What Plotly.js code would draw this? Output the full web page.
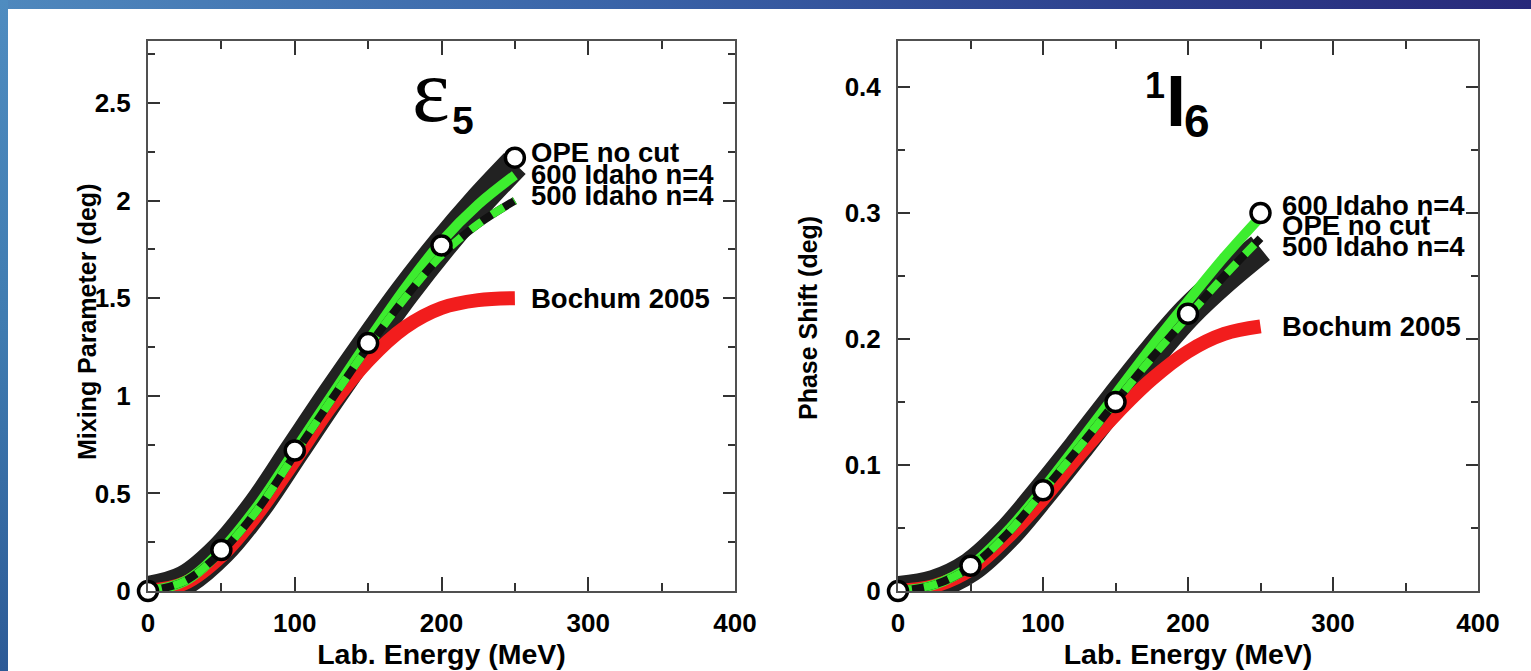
<!DOCTYPE html>
<html>
<head>
<meta charset="utf-8">
<script src="https://cdn.plot.ly/plotly-3.0.1.min.js"></script>
<style>
  html, body { margin:0; padding:0; }
  body { width:1531px; height:671px; position:relative; overflow:hidden;
         background: linear-gradient(90deg, #4f88bd 0%, #3a64a8 40%, #2d3f8c 75%, #28297a 100%); }
  #left-strip { position:absolute; left:0; top:0; width:8px; height:671px;
         background: linear-gradient(180deg, #4f8cc0 0%, #3f7bb0 50%, #2c5a96 100%); }
  #white { position:absolute; left:8px; top:9px; right:0; bottom:0; background:#ffffff; }
  #chart { position:absolute; left:0; top:0; width:1531px; height:671px; }
</style>
</head>
<body>
<div id="left-strip"></div>
<div id="white"></div>
<div id="chart"></div>
<script>
// ---- Data ----
const energy = [0, 25, 50, 75, 100, 125, 150, 175, 200, 225, 250];
const opeEnergy = [0, 50, 100, 150, 200, 250];

// epsilon_5 mixing parameter (deg)
const eps5Band      = [0, 0.055, 0.21, 0.44, 0.72, 1.00, 1.27, 1.53, 1.77, 1.99, 2.19];
const eps5Bochum    = [0, 0.04, 0.18, 0.40, 0.67, 0.95, 1.18, 1.35, 1.45, 1.49, 1.50];
const eps5Idaho600  = [0, 0.05, 0.21, 0.44, 0.72, 1.00, 1.28, 1.55, 1.79, 1.98, 2.13];
const eps5Idaho500  = [0, 0.05, 0.20, 0.42, 0.70, 0.98, 1.25, 1.50, 1.72, 1.88, 2.00];
const eps5OPE       = [0, 0.21, 0.72, 1.27, 1.77, 2.22];

// 1I6 phase shift (deg)
const i6Band        = [0, 0.005, 0.019, 0.045, 0.079, 0.115, 0.152, 0.188, 0.221, 0.248, 0.272];
const i6Bochum      = [0, 0.004, 0.017, 0.042, 0.073, 0.108, 0.140, 0.168, 0.190, 0.204, 0.210];
const i6Idaho600    = [0, 0.005, 0.020, 0.047, 0.081, 0.118, 0.156, 0.194, 0.230, 0.265, 0.297];
const i6Idaho500    = [0, 0.005, 0.019, 0.045, 0.079, 0.114, 0.150, 0.185, 0.218, 0.250, 0.280];
const i6OPE         = [0, 0.02, 0.08, 0.15, 0.22, 0.30];

const seriesLabelsLeft  = ["OPE no cut", "600 Idaho n=4", "500 Idaho n=4", "Bochum 2005"];
const seriesLabelsRight = ["600 Idaho n=4", "OPE no cut", "500 Idaho n=4", "Bochum 2005"];
const yTitles = ["Mixing Parameter (deg)", "Phase Shift (deg)"];
const xTitle = "Lab. Energy (MeV)";

// ---- Styling ----
const W = 1531, H = 671;
const BLACK = '#222222', RED = '#f21d1d', GREEN = '#3ded2f';
const FONT = 'Liberation Sans, Arial, Helvetica, sans-serif';
const px = x => x / W;
const py = y => 1 - y / H;

function curves(xa, ya, band, bochum, i600, i500, ope) {
  const base = {x: energy, xaxis: xa, yaxis: ya, mode: 'lines', hoverinfo: 'skip', showlegend: false};
  return [
    Object.assign({}, base, {y: band,   name: 'band', line: {color: BLACK, width: 30, shape: 'spline'}}),
    Object.assign({}, base, {y: bochum, name: 'Bochum 2005', line: {color: RED, width: 14, shape: 'spline'}}),
    Object.assign({}, base, {y: i600,   name: '600 Idaho n=4', line: {color: GREEN, width: 10, shape: 'spline'}}),
    Object.assign({}, base, {y: i500,   name: '500 Idaho n=4 (base)', line: {color: '#111111', width: 8, shape: 'spline'}}),
    Object.assign({}, base, {y: i500,   name: '500 Idaho n=4', line: {color: GREEN, width: 8, shape: 'spline', dash: '14px,12px'}}),
    {x: opeEnergy, y: ope, xaxis: xa, yaxis: ya, mode: 'markers', name: 'OPE no cut', showlegend: false,
     cliponaxis: false, hoverinfo: 'skip',
     marker: {symbol: 'circle', size: 19, color: '#ffffff', line: {color: '#000000', width: 3.5}}}
  ];
}

const data = [].concat(
  curves('x', 'y', eps5Band, eps5Bochum, eps5Idaho600, eps5Idaho500, eps5OPE),
  curves('x2', 'y2', i6Band, i6Bochum, i6Idaho600, i6Idaho500, i6OPE)
);

function xAxis(domain, anchor) {
  return {
    domain: domain, anchor: anchor, range: [0, 400], dtick: 100, tick0: 0,
    ticks: 'inside', ticklen: 14, tickwidth: 2, tickcolor: '#333',
    minor: {dtick: 50, ticks: 'inside', ticklen: 8, tickwidth: 2, tickcolor: '#333'},
    showline: true, linecolor: '#505050', linewidth: 2, mirror: 'allticks',
    showgrid: false, zeroline: false, ticklabelstandoff: 8,
    tickfont: {family: FONT, size: 26, color: '#000', weight: 'bold'},
    title: {text: xTitle, standoff: 7, font: {family: FONT, size: 28.5, color: '#000', weight: 'bold'}}
  };
}
function yAxis(domain, anchor, top, dt) {
  return {
    domain: domain, anchor: anchor, range: [0, top], dtick: dt, tick0: 0,
    ticks: 'inside', ticklen: 12, tickwidth: 2, tickcolor: '#333',
    minor: {dtick: dt / 2, ticks: 'inside', ticklen: 7, tickwidth: 2, tickcolor: '#333'},
    showline: true, linecolor: '#505050', linewidth: 2, mirror: 'allticks',
    showgrid: false, zeroline: false, ticklabelstandoff: 10,
    tickfont: {family: FONT, size: 26, color: '#000', weight: 'bold'}
  };
}

function label(text, x, y, size, extra) {
  return Object.assign({text: text, xref: 'paper', yref: 'paper', x: px(x), y: py(y),
    xanchor: 'left', yanchor: 'middle', showarrow: false,
    font: {family: FONT, size: size || 27.5, color: '#000', weight: 'bold'}}, extra || {});
}

const yDom = [py(591), py(41)];
const layout = {
  width: W, height: H,
  margin: {l: 0, r: 0, t: 0, b: 0},
  paper_bgcolor: 'rgba(0,0,0,0)', plot_bgcolor: '#ffffff',
  showlegend: false,
  xaxis: xAxis([px(148), px(735)], 'y'),
  yaxis: yAxis(yDom, 'x', 2.8176, 0.5),
  xaxis2: xAxis([px(898), px(1478)], 'y2'),
  yaxis2: yAxis(yDom, 'x2', 0.4365, 0.1),
  annotations: [
    label(seriesLabelsLeft[0], 529, 153),
    label(seriesLabelsLeft[1], 529, 174),
    label(seriesLabelsLeft[2], 529, 196),
    label(seriesLabelsLeft[3], 529, 298),
    label(seriesLabelsRight[0], 1280, 205),
    label(seriesLabelsRight[1], 1280, 225),
    label(seriesLabelsRight[2], 1280, 247),
    label(seriesLabelsRight[3], 1280, 326),
    label(yTitles[0], 87, 322, 25, {xanchor: 'center', textangle: -90}),
    label(yTitles[1], 808, 318, 25, {xanchor: 'center', textangle: -90}),
    label('ε', 431, 91, 90, {xanchor: 'center', font: {family: 'Liberation Serif, Times New Roman, serif', size: 90, color: '#000'}}),
    label('5', 463, 121, 39, {xanchor: 'center'}),
    label('1', 1155, 86, 36, {xanchor: 'center'}),
    label('I', 1176, 101, 72, {xanchor: 'center'}),
    label('6', 1197, 121, 46, {xanchor: 'center'})
  ]
};

Plotly.newPlot('chart', data, layout, {staticPlot: true, displayModeBar: false});
</script>
</body>
</html>
